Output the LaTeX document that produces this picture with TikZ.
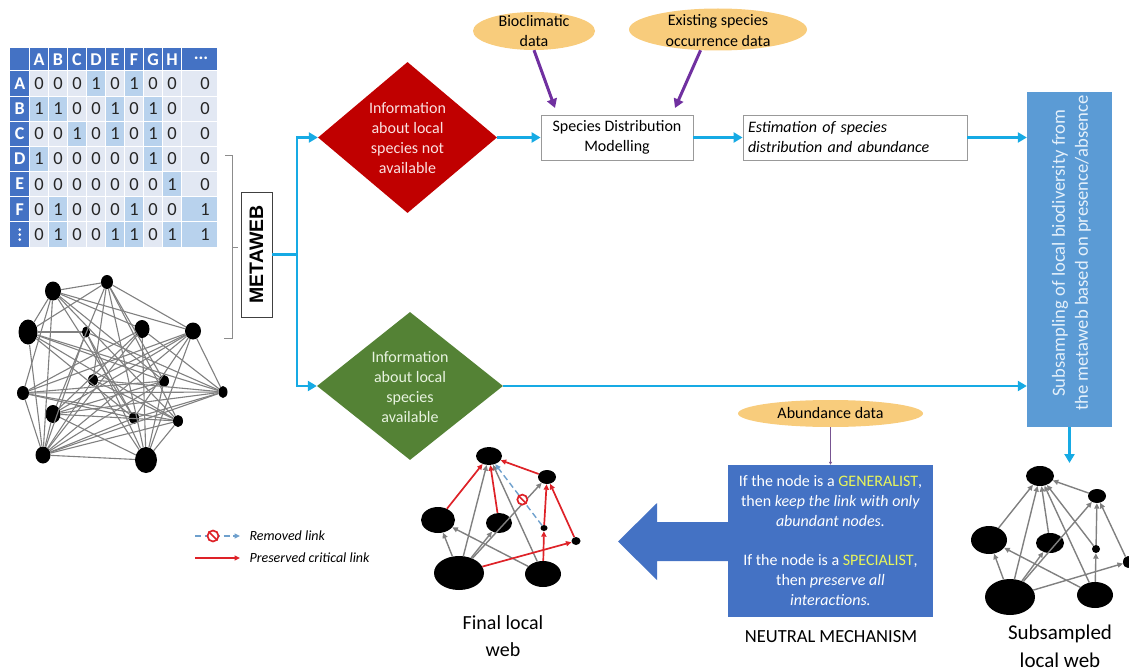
\documentclass[tikz,border=0pt]{standalone}
\usepackage{fontspec}
\setmainfont{Carlito}
\newfontfamily\arialfont{Liberation Sans}
\usetikzlibrary{shapes.geometric,arrows.meta}

\definecolor{flowC}{RGB}{22,170,228}
\definecolor{darkRed}{RGB}{192,0,0}
\definecolor{oliveG}{RGB}{84,130,53}
\definecolor{ellC}{RGB}{248,204,124}
\definecolor{purpC}{RGB}{112,48,160}
\definecolor{barC}{RGB}{91,155,213}
\definecolor{boxC}{RGB}{68,114,196}
\definecolor{hdrC}{RGB}{68,114,196}
\definecolor{zeroC}{RGB}{226,232,243}
\definecolor{oneC}{RGB}{184,210,237}
\definecolor{yelC}{RGB}{232,245,90}
\definecolor{redE}{RGB}{222,34,40}
\definecolor{grayE}{RGB}{128,128,128}
\definecolor{blueD}{RGB}{110,160,205}
\definecolor{redTxt}{RGB}{250,225,225}
\definecolor{greenTxt}{RGB}{232,243,224}
\definecolor{barTxt}{RGB}{228,240,251}

\newcommand{\fsz}[2]{\fontsize{#1}{#2}\selectfont}
\newcommand{\bn}[5]{\node[bnode, minimum width=#4pt, minimum height=#5pt] (#1) at (#2,#3) {};}
\newcommand{\noentrymark}[1]{\draw[redE, solid, line width=1.7pt] (#1.north west) -- (#1.south east);}
\newcommand{\mrow}[3]{%
  \pgfmathsetmacro{\ytop}{71+(#1-1)*25.14}%
  \pgfmathsetmacro{\ybot}{\ytop+25.14}%
  \pgfmathsetmacro{\ymid}{\ytop+12.57}%
  \fill[hdrC] (10,\ytop) rectangle (29.5,\ybot);
  \node[mlab] (lab#1) at (19.75,\ymid) {#2};
  \foreach \v [count=\c] in {#3} {
    \pgfmathsetmacro{\xl}{29.5+(\c-1)*19}
    \pgfmathsetmacro{\xr}{\c==9 ? 217 : \xl+19}
    \pgfmathsetmacro{\xm}{\c==9 ? 205 : \xl+9.5}
    \ifnum\v=1 \fill[oneC] (\xl,\ytop) rectangle (\xr,\ybot); \else \fill[zeroC] (\xl,\ytop) rectangle (\xr,\ybot); \fi
    \node[mtxt] (m#1-\c) at (\xm,\ymid) {\v};
  }
}

\begin{document}
\begin{tikzpicture}[x=1pt,y=-1pt,
  flow/.style={draw=flowC, line width=2.8pt, -{Triangle[length=9pt,width=10pt]}},
  parrow/.style={draw=purpC, line width=3pt, -{Triangle[length=9pt,width=10pt]}},
  thinarrow/.style={draw=purpC!55!gray, line width=0.9pt, -{Triangle[length=3pt,width=3pt]}},
  bnode/.style={ellipse, fill=black, inner sep=0pt},
  kedge/.style={draw=grayE, line width=1.1pt},
  gedge/.style={draw=grayE, line width=1.4pt, -{Triangle[length=5.5pt,width=5pt]}},
  redge/.style={draw=redE, line width=1.7pt, -{Triangle[length=5.5pt,width=5pt]}},
  dedge/.style={draw=blueD, line width=1.4pt, dash pattern=on 6pt off 3.5pt, -{Triangle[length=5.5pt,width=5pt]}},
  noentry/.style={circle, solid, draw=redE, line width=1.7pt, fill=white, minimum size=11pt, inner sep=0pt},
  mtxt/.style={font=\fsz{18.5}{20}, text=black!85, inner sep=0pt},
  mlab/.style={font=\bfseries\fsz{18}{20}, text=white, inner sep=0pt},
  body/.style={font=\fsz{16}{20}, align=center},
  ellbox/.style={ellipse, fill=ellC, inner sep=0pt},
  plainbox/.style={draw=black!40, line width=0.8pt, inner sep=0pt},
]
\useasboundingbox (0,0) rectangle (1129,671);

% ---------------- matrix ----------------
\fill[hdrC] (10,48) rectangle (217,71);
\foreach \h [count=\c] in {A,B,C,D,E,F,G,H} {
  \pgfmathsetmacro{\xm}{29.5+(\c-1)*19+9.5}
  \node[mlab] (h\c) at (\xm,59.5) {\h};
}
\node[mlab] (h9) at (201,58.5) {...};
\mrow{1}{A}{0,0,0,1,0,1,0,0,0}
\mrow{2}{B}{1,1,0,0,1,0,1,0,0}
\mrow{3}{C}{0,0,1,0,1,0,1,0,0}
\mrow{4}{D}{1,0,0,0,0,0,1,0,0}
\mrow{5}{E}{0,0,0,0,0,0,0,1,0}
\mrow{6}{F}{0,1,0,0,0,1,0,0,1}
\mrow{7}{}{0,1,0,0,1,1,0,1,1}
\foreach \dy in {-5,0,5}
  \fill[white] (19.75,234.6+\dy) circle (1.4pt);
\foreach \xx in {29.5,48.5,67.5,86.5,105.5,124.5,143.5,162.5,181.5}
  \draw[white, line width=1pt] (\xx,48) -- (\xx,247);
\foreach \k in {0,...,6} {
  \pgfmathsetmacro{\yy}{71+\k*25.14}
  \draw[white, line width=1pt] (10,\yy) -- (217,\yy);
}

% bracket
\draw[black!45, line width=0.8pt] (225,155) -- (232,155) -- (232,338) -- (224,338);
\draw[black!45, line width=0.8pt] (232,247) -- (238,247);

% ---------------- metaweb network ----------------
\bn{k1}{53}{291}{16}{19}
\bn{k2}{107}{282}{12}{14}
\bn{k3}{28}{332}{19}{25}
\bn{k4}{86}{332}{8}{11}
\bn{k5}{142}{329}{15}{18}
\bn{k6}{193}{331}{16}{17}
\bn{k7}{93}{380}{10}{12}
\bn{k8}{164}{381}{10}{12}
\bn{k9}{23}{393}{12}{14}
\bn{k10}{223}{392}{9}{12}
\bn{k11}{53}{414}{15}{18}
\bn{k12}{134}{418}{10}{12}
\bn{k13}{178}{421}{10}{12}
\bn{k14}{43}{455}{15}{17}
\bn{k15}{146}{460}{22}{26}
\foreach \a/\b in {1/2,1/3,1/9,1/5,1/6,1/8,1/12,1/14,1/13,
  2/6,2/3,2/11,2/7,2/13,2/8,2/15,
  3/10,3/8,3/12,3/14,3/4,3/13,
  4/15,4/14,4/10,4/12,
  5/15,5/14,5/10,5/11,5/9,
  6/9,6/11,6/7,6/10,6/12,6/14,6/15,
  7/14,7/15,7/10,7/13,
  8/9,8/14,8/15,8/11,
  9/10,9/13,9/14,9/12,
  10/11,10/14,10/12,
  11/13,11/15,11/14,
  12/14,13/14,14/15,13/15}
  \draw[kedge] (k\a) -- (k\b);

% ---------------- METAWEB box and flows ----------------
\node[draw=black!75, line width=0.8pt, minimum width=31pt, minimum height=125pt, inner sep=0pt,
      font={\arialfont\bfseries\fsz{19.5}{21}}] (metaweb) at (256.5,254.5) {\rotatebox{90}{METAWEB}};

\node[diamond, fill=darkRed, minimum width=179pt, minimum height=151pt, inner sep=0pt] (redD) at (407.5,137.5) {};
\node[body, text=redTxt] (redT) at (407.5,138) {Information\\about local\\species not\\available};

\node[diamond, fill=oliveG, minimum width=186pt, minimum height=148pt, inner sep=0pt] (greenD) at (410,386) {};
\node[body, text=greenTxt] (greenT) at (410,387) {Information\\about local\\species\\available};

\node[plainbox, minimum width=152pt, minimum height=45pt, body] (sdm) at (617,137.5) {Species Distribution\\Modelling};
\node[plainbox, minimum width=224pt, minimum height=45pt, font={\itshape\fsz{16}{20}}, align=left, text width=214pt] (est) at (855,137.5) {Estimation of species\\distribution and abundance};

\node[fill=barC, minimum width=85pt, minimum height=335pt, inner sep=0pt] (bar) at (1069.5,259.5) {};
\node[rotate=90, align=center, text=barTxt, font=\fsz{18.6}{23}] (barT) at (1071.5,253) {Subsampling of local biodiversity from\\the metaweb based on presence/absence};

\coordinate (jn) at (297,254.5);
\draw[flow] (metaweb.east) -- (jn) |- (redD.west);
\draw[flow] (jn) |- (greenD.west);
\draw[flow] (redD.east) -- (sdm.west);
\draw[flow] (sdm.east) -- (est.west);
\draw[flow] (est.east) -- (est.east -| bar.west);
\draw[flow] (greenD.east) -- (greenD.east -| bar.west);
\coordinate (barEnd) at (1069.5,463);
\draw[flow] (bar.south) -- (barEnd);

% ellipses
\node[ellbox, minimum width=122pt, minimum height=38pt] (bio) at (534,31) {};
\node[body] (bioT) at (534,31) {Bioclimatic\\data};
\node[ellbox, minimum width=178pt, minimum height=42pt] (exist) at (718,29.5) {};
\node[font=\fsz{16}{21}, align=center] (existT) at (718,30.5) {Existing species\\occurrence data};
\coordinate (bioIn) at (555,108);
\coordinate (exIn) at (675,108);
\draw[parrow] (bio.south) -- (bioIn);
\draw[parrow] (exist.-130) -- (exIn);

\node[ellbox, minimum width=185pt, minimum height=27pt] (abund) at (830.5,413.5) {};
\node[body] (abundT) at (830.5,413.5) {Abundance data};

% neutral mechanism
\fill[boxC] (728,522) -- (657,522) -- (657,503) -- (618,541.5) -- (657,580) -- (657,561) -- (728,561) -- cycle;
\node[fill=boxC, minimum width=205pt, minimum height=152pt, inner sep=0pt, text=white, body] (neutral) at (830.5,541)
  {If the node is a \textcolor{yelC}{GENERALIST},\\ then \textit{keep the link with only}\\ \textit{abundant nodes.}\\[19pt]
   If the node is a \textcolor{yelC}{SPECIALIST},\\ then \textit{preserve all}\\ \textit{interactions.}};
\draw[thinarrow] (abund.south) -- (neutral.north);
\node[font=\fsz{18.5}{20}] (neutT) at (831,637) {NEUTRAL MECHANISM};

% ---------------- final local web ----------------
\bn{fa}{489}{456}{26}{18}
\bn{fb}{547}{477}{18}{14}
\bn{fc}{438}{520}{34}{26}
\bn{fd}{499}{523}{26}{20}
\bn{fe}{544}{528}{7}{6}
\bn{ff}{576}{541}{9}{8}
\bn{fg}{459}{573}{50}{34}
\bn{fh}{543}{574}{36}{26}
\foreach \a/\b in {fg/fa,fg/fc,fg/fd,fg/fb,fh/fa,fh/fc}
  \draw[gedge] (\a) -- (\b);
\foreach \a/\b in {fc/fa,fd/fa,fb/fa,fg/ff,fh/fe,fe/fb,ff/fb}
  \draw[redge] (\a) -- (\b);
\draw[dedge] (fe) -- (fa) node[noentry, pos=0.42, minimum size=10pt] (fnoe) {};
\noentrymark{fnoe}
\node[font=\fsz{20}{27}, align=center] (finalT) at (503,636.5) {Final local\\web};

% ---------------- subsampled local web ----------------
\bn{sa}{1040}{476}{28}{20}
\bn{sb}{1097}{496}{18}{14}
\bn{sc}{989}{540}{36}{28}
\bn{sd}{1050}{543}{28}{20}
\bn{se}{1096}{549}{8}{8}
\bn{sf}{1128}{562}{10}{12}
\bn{sg}{1010}{597}{50}{36}
\bn{sh}{1095}{595}{36}{26}
\foreach \a/\b in {sc/sa,sd/sa,sb/sa,sg/sf,sh/se,se/sb,sf/sb,sg/sa,sg/sc,sg/sd,sg/sb,sh/sa,sh/sc,se/sa}
  \draw[gedge] (\a) -- (\b);
\node[font=\fsz{21}{28}, align=center] (subT) at (1060,646) {Subsampled\\local web};

% ---------------- legend ----------------
\coordinate (lg1a) at (195,536);
\coordinate (lg1b) at (240,536);
\coordinate (lg2a) at (195,558);
\coordinate (lg2b) at (240,558);
\draw[dedge] (lg1a) -- (lg1b) node[noentry, pos=0.4] (lnoe) {};
\noentrymark{lnoe}
\draw[redge] (lg2a) -- (lg2b);
\node[anchor=west, font={\itshape\fsz{14}{16}}] (lgT1) at (246,536) {Removed link};
\node[anchor=west, font={\itshape\fsz{14}{16}}] (lgT2) at (246,558) {Preserved critical link};
\end{tikzpicture}
\end{document}
